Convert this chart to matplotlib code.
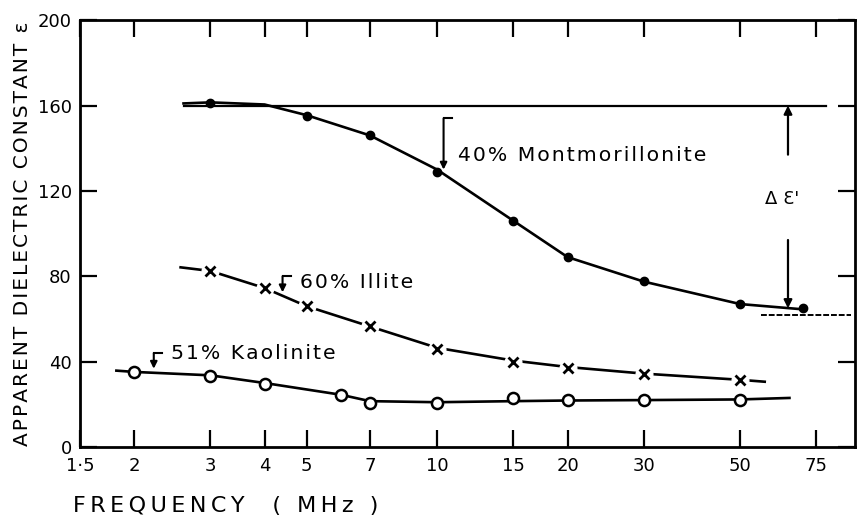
# -*- coding: utf-8 -*-
""" Apparent dielectric constant vs frequency for three clays """
import numpy as np
import matplotlib
matplotlib.use("Agg")
import matplotlib.pyplot as plt

# -----------------------------------------------------------------------------
# Data
# -----------------------------------------------------------------------------
# 40% Montmorillonite, filled dots
mont_f = [3, 5, 7, 10, 15, 20, 30, 50, 70]
mont_e = [161, 155, 146, 129, 106, 89, 78, 67, 65]
mont_curve_f = [2.6, 3, 4, 5, 7, 10, 15, 20, 30, 50, 70]
mont_curve_e = [161, 161.5, 160.5, 155.5, 146, 130, 106, 89, 77.5, 67, 64.5]

# 60% Illite, crosses
illite_f = [3, 4, 5, 7, 10, 15, 20, 30, 50]
illite_e = [82.5, 74.5, 66, 56.5, 46, 40, 37.2, 34.4, 31.5]
illite_curve_f = [2.56, 3, 4, 5, 7, 10, 15, 20, 30, 50, 57]
illite_curve_e = [84.2, 82.5, 74.5, 66, 56.5, 46.5, 40.5, 37.5, 34.4, 31.5, 30.6]

# 51% Kaolinite, open circles
kaol_f = [2, 3, 4, 6, 7, 10, 15, 20, 30, 50]
kaol_e = [35, 33.4, 29.6, 24.5, 20.8, 20.7, 23, 22, 22, 22]
kaol_curve_f = [1.82, 2, 3, 4, 6, 7, 10, 15, 20, 30, 50, 65]
kaol_curve_e = [35.8, 35.2, 33.6, 30, 24.5, 21.5, 21, 21.5, 21.8, 22, 22.3, 23]

# reference levels for the delta epsilon marker
eps_static = 160
eps_inf = 62

x_ticks = [1.5, 2, 3, 4, 5, 7, 10, 15, 20, 30, 50, 75]
x_tick_labels = ["1·5", "2", "3", "4", "5", "7", "10", "15", "20", "30", "50", "75"]
y_ticks = [0, 40, 80, 120, 160, 200]

HAIR = "\u200a"
THIN = "\u2009"

def spaced(s, sep):
    """ Poor man's letter spacing. """
    return sep.join(s)

# -----------------------------------------------------------------------------
# Figure
# -----------------------------------------------------------------------------
plt.rcParams['font.family'] = ['DejaVu Sans']
fig = plt.figure(figsize=(8.6, 5.18), dpi=100)
ax = fig.add_axes([0.093, 0.137, 0.901, 0.824])

LW = 1.9
ax.plot(mont_curve_f, mont_curve_e, color='black', lw=LW, zorder=2)
ax.plot(mont_f, mont_e, 'o', ms=6, color='black', zorder=3)

ax.plot(illite_curve_f, illite_curve_e, color='black', lw=LW, zorder=2)
ax.plot(illite_f, illite_e, 'o', ms=12, color='white', zorder=3)
ax.plot(illite_f, illite_e, 'x', ms=7, mew=2, color='black', zorder=4)

ax.plot(kaol_curve_f, kaol_curve_e, color='black', lw=LW, zorder=2)
ax.plot(kaol_f, kaol_e, 'o', ms=8, mfc='white', mec='black', mew=1.8, zorder=3)

# horizontal reference lines
ax.plot([2.6, 79], [eps_static, eps_static], color='black', lw=1.6, zorder=2)
ax.plot([56, 90], [eps_inf, eps_inf], color='black', lw=1.4, ls=(0, (3, 1)), zorder=2)

# delta epsilon arrows
arrow = dict(arrowstyle='-|>', color='black', lw=1.6, mutation_scale=12,
             shrinkA=0, shrinkB=0)
ax.annotate('', xy=(64.5, eps_static), xytext=(64.5, 137), arrowprops=arrow)
ax.annotate('', xy=(64.5, 65), xytext=(64.5, 97), arrowprops=arrow)
ax.text(57, 116, "Δ Ɛ'", fontsize=13, va='center', ha='left')

# curve labels with small bracket leaders
def label(xb, ytop, ybot, xt, yt, text):
    ax.plot([xb, xb * 1.045], [ytop, ytop], color='black', lw=1.5)
    ax.annotate('', xy=(xb, ybot), xytext=(xb, ytop),
                arrowprops=dict(arrowstyle='-|>', color='black', lw=1.5,
                                mutation_scale=10, shrinkA=0, shrinkB=0))
    ax.text(xt, yt, spaced(text, HAIR), fontsize=14.7, va='center', ha='left')

label(10.35, 154, 130, 11.2, 136.5, "40% Montmorillonite")
label(4.4, 80, 72.5, 4.82, 77, "60% Illite")
label(2.22, 44, 36.7, 2.43, 44, "51% Kaolinite")

# axes
ax.set_xscale('log')
ax.set_xlim(1.5, 92)
ax.set_ylim(0, 200)
ax.set_xticks(x_ticks)
ax.set_xticklabels(x_tick_labels)
ax.xaxis.set_minor_locator(matplotlib.ticker.NullLocator())
ax.set_yticks(y_ticks)
ax.tick_params(axis='both', which='major', direction='in', length=12, width=1.6,
               labelsize=13, top=True, right=True, pad=7)
ax.tick_params(axis='y', pad=6)
for sp in ax.spines.values():
    sp.set_linewidth(2)

fig.text(0.026, 0.549, spaced("APPARENT DIELECTRIC CONSTANT ε", HAIR), rotation=90,
         fontsize=14.5, ha='center', va='center')
fig.text(0.085, 0.023, spaced("FREQUENCY  ( MHz )", THIN), fontsize=16,
         ha='left', va='center')

plt.savefig("out.png", dpi=100)
